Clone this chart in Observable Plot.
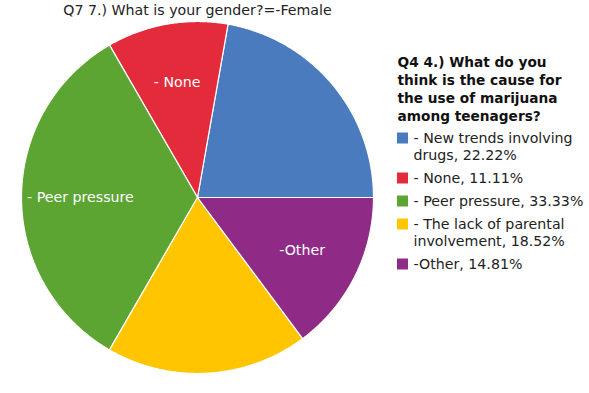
<!DOCTYPE html>
<html><head><meta charset="utf-8">
<script src="https://cdn.jsdelivr.net/npm/d3@7"></script>
<script src="https://cdn.jsdelivr.net/npm/@observablehq/plot@0.6"></script>
<style>body{margin:0;background:#fff}</style>
</head><body><div id="chart"></div>
<script>
const chartTitle = "Q7 7.) What is your gender?=-Female";
const legendTitle = "Q4 4.) What do you think is the cause for the use of marijuana among teenagers?";
const categories = ["- New trends involving drugs", "- None", "- Peer pressure", "- The lack of parental involvement", "-Other"];
const percents = [22.22, 11.11, 33.33, 18.52, 14.81];
const sliceLabels = ["", "- None", "- Peer pressure", "", "-Other"];
const colors = ["#4a7bbf", "#e32b3b", "#5da532", "#ffc600", "#8f2b87"];

const W = 589, H = 393;
const cx = 197, cy = 197, R = 176;
const FONT = "'DejaVu Sans', Verdana, sans-serif";
const FS = 14.2, FSB = 13.7;

// pie slice polygons, counter-clockwise from 3 o'clock
const total = d3.sum(percents);
const start = Math.PI / 2;
let cum = 0;
const pts = [], labels = [];
percents.forEach((v, i) => {
  const a0 = start - cum / total * 2 * Math.PI;
  cum += v;
  const a1 = start - cum / total * 2 * Math.PI;
  const n = Math.max(2, Math.ceil(Math.abs(a1 - a0) / (Math.PI / 360)));
  pts.push({k: i, x: cx, y: cy});
  for (let j = 0; j <= n; j++) {
    const a = a0 + (a1 - a0) * j / n;
    pts.push({k: i, x: cx + R * Math.sin(a), y: cy - R * Math.cos(a)});
  }
  const am = (a0 + a1) / 2;
  if (sliceLabels[i]) labels.push({text: sliceLabels[i], x: cx + 0.665 * R * Math.sin(am), y: cy - 0.665 * R * Math.cos(am)});
});

// text wrapping by measurement
const ctx = document.createElement("canvas").getContext("2d");
function wrap(text, font, maxW) {
  ctx.font = font;
  const words = text.split(" ");
  const lines = [];
  let cur = "";
  for (const w of words) {
    const t = cur ? cur + " " + w : w;
    if (cur && ctx.measureText(t).width > maxW) { lines.push(cur); cur = w; }
    else cur = t;
  }
  if (cur) lines.push(cur);
  return lines;
}

const LX = 397, TX = 413, MAXW = 178;
const legendTitleLines = wrap(legendTitle, `bold ${FSB}px ${FONT}`, MAXW);
const titleRows = legendTitleLines.map((t, j) => ({text: t, x: LX, y: 62 + j * 18}));
let yy = 62 + legendTitleLines.length * 18 + 4;
const itemRows = [], swatches = [];
categories.forEach((c, i) => {
  const lines = wrap(`${c}, ${percents[i].toFixed(2)}%`, `${FS}px ${FONT}`, MAXW);
  swatches.push({k: i, x1: LX, x2: LX + 11, y1: yy - 5.5, y2: yy + 5.5});
  lines.forEach((t, j) => itemRows.push({text: t, x: TX, y: yy + j * 17}));
  yy += (lines.length - 1) * 17 + 23;
});

const chart = Plot.plot({
  width: W, height: H, margin: 0,
  style: {fontFamily: FONT, background: "white"},
  x: {domain: [0, W], range: [0, W], axis: null},
  y: {domain: [0, H], range: [0, H], axis: null},
  color: {type: "identity"},
  marks: [
    Plot.line(pts, {x: "x", y: "y", z: "k", fill: d => colors[d.k], stroke: "white", strokeWidth: 1.2, curve: "linear-closed"}),
    Plot.text(labels, {x: "x", y: "y", text: "text", fill: "white", fontSize: FS}),
    Plot.text([chartTitle], {x: cx, y: 10, text: d => d, fill: "#222", fontSize: FS}),
    Plot.text(titleRows, {x: "x", y: "y", text: "text", fill: "#111", fontSize: FSB, fontWeight: "bold", textAnchor: "start"}),
    Plot.rect(swatches, {x1: "x1", x2: "x2", y1: "y1", y2: "y2", fill: d => colors[d.k]}),
    Plot.text(itemRows, {x: "x", y: "y", text: "text", fill: "#222", fontSize: FS, textAnchor: "start"})
  ]
});
document.getElementById("chart").append(chart);
</script>
</body></html>
